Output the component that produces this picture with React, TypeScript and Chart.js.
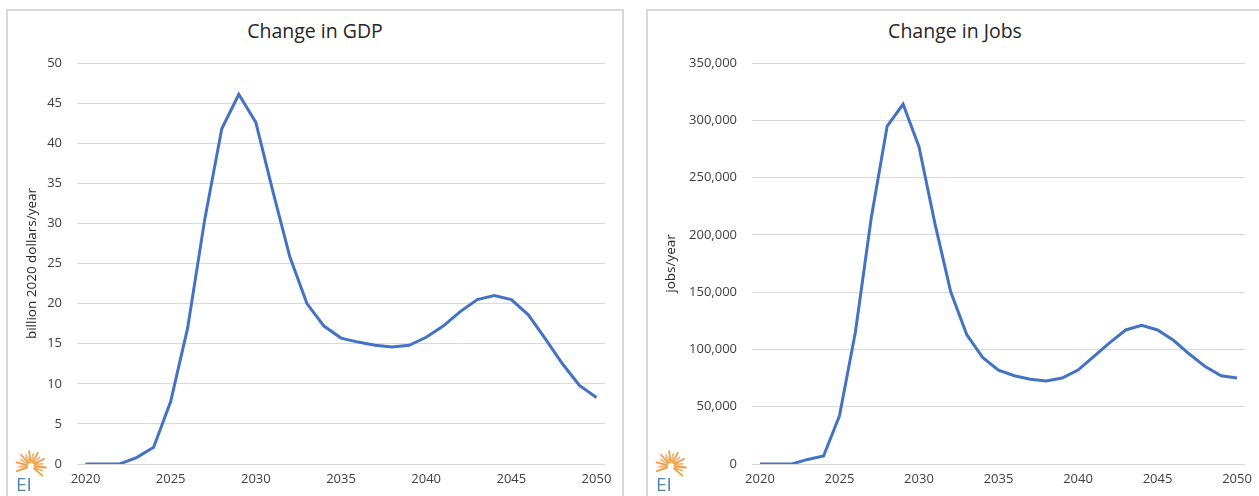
import React, { useEffect, useRef } from "react";
import { Chart, registerables } from "chart.js";

Chart.register(...registerables);

const years = [
  "2020", "2021", "2022", "2023", "2024", "2025", "2026", "2027", "2028", "2029",
  "2030", "2031", "2032", "2033", "2034", "2035", "2036", "2037", "2038", "2039",
  "2040", "2041", "2042", "2043", "2044", "2045", "2046", "2047", "2048", "2049", "2050",
];

const gdpValues = [
  0, 0, 0, 0.8, 2.1, 7.8, 17, 30.5, 41.8, 46.1,
  42.6, 34, 25.8, 20, 17.2, 15.7, 15.2, 14.8, 14.6, 14.8,
  15.8, 17.2, 19, 20.5, 21, 20.5, 18.6, 15.6, 12.5, 9.8, 8.3,
];

const jobsValues = [
  0, 0, 0, 4000, 7000, 42000, 115000, 215000, 295000, 314000,
  277000, 210000, 150000, 113000, 93000, 82000, 77000, 74000, 72500, 75000,
  82000, 94000, 106000, 117000, 121000, 117000, 108000, 96000, 85000, 77000, 75000,
];

const gdpAxis = { min: 0, max: 50, step: 5 };
const jobsAxis = { min: 0, max: 350000, step: 50000 };

const FONT = "'Open Sans', 'Liberation Sans', sans-serif";
const TEXT = "#404040";
const GRID = "#d9d9d9";
const LINE = "#4472C4";

const logoPlugin = {
  id: "eiLogo",
  afterDraw(chart: any) {
    const ctx = chart.ctx;
    ctx.save();
    const cx = 23;
    const cy = 455;
    const n = 15;
    for (let i = 0; i < n; i++) {
      const a = ((-200 + (i * 240) / (n - 1)) * Math.PI) / 180;
      const r0 = 4;
      const r1 = i % 2 === 0 ? 15 : 12;
      ctx.strokeStyle = i % 2 === 0 ? "#f29a3f" : "#f6b26b";
      ctx.lineWidth = 1.8;
      ctx.lineCap = "round";
      ctx.beginPath();
      ctx.moveTo(cx + r0 * Math.cos(a), cy + r0 * Math.sin(a));
      ctx.lineTo(cx + r1 * Math.cos(a), cy + r1 * Math.sin(a));
      ctx.stroke();
    }
    ctx.fillStyle = "#5782aa";
    ctx.font = `19px ${FONT}`;
    ctx.textBaseline = "alphabetic";
    ctx.textAlign = "left";
    ctx.fillText("EI", 8, 480);
    ctx.restore();
  },
};

type PanelProps = {
  left: number;
  title: string;
  yTitle: string;
  values: number[];
  axis: { min: number; max: number; step: number };
  yAxisWidth: number;
  yTitlePad: number;
  fmt: (v: number) => string;
};

function Panel({ left, title, yTitle, values, axis, yAxisWidth, yTitlePad, fmt }: PanelProps) {
  const ref = useRef<HTMLCanvasElement>(null);
  useEffect(() => {
    if (!ref.current) return;
    const chart = new Chart(ref.current, {
      type: "line",
      data: {
        labels: years,
        datasets: [
          {
            data: values,
            borderColor: LINE,
            borderWidth: 3,
            pointRadius: 0,
            tension: 0,
            fill: false,
          },
        ],
      },
      plugins: [logoPlugin],
      options: {
        responsive: false,
        animation: false,
        layout: { padding: { top: 52, right: 17, bottom: 0, left: 0 } },
        plugins: { legend: { display: false }, title: { display: false }, tooltip: { enabled: false } },
        scales: {
          x: {
            type: "category",
            offset: true,
            grid: { display: false, drawTicks: false },
            border: { display: false },
            afterFit: (s: any) => {
              s.height = 32;
            },
            ticks: {
              autoSkip: false,
              maxRotation: 0,
              padding: 7,
              color: TEXT,
              font: { family: FONT, size: 13 },
              callback: function (this: any, v: any) {
                const lab = years[v as number];
                return Number(lab) % 5 === 0 ? lab : "";
              },
            },
          },
          y: {
            min: axis.min,
            max: axis.max,
            afterFit: (s: any) => {
              s.width = yAxisWidth;
            },
            grid: { color: GRID, lineWidth: 1, drawTicks: false },
            border: { display: false },
            ticks: {
              stepSize: axis.step,
              padding: 15,
              color: TEXT,
              font: { family: FONT, size: 13 },
              callback: (v: any) => fmt(Number(v)),
            },
            title: {
              display: true,
              text: yTitle,
              color: "#262626",
              font: { family: FONT, size: 13.5 },
              padding: { top: yTitlePad, bottom: 0 },
            },
          },
        },
      },
    });
    return () => chart.destroy();
  }, []);
  return (
    <div
      style={{
        position: "absolute",
        left,
        top: 9,
        width: 618,
        height: 500,
        border: "2px solid #d9d9d9",
        boxSizing: "border-box",
        background: "#fff",
      }}
    >
      <div
        style={{
          position: "absolute",
          left: 0,
          top: 7,
          width: "100%",
          textAlign: "center",
          fontFamily: FONT,
          fontSize: 19.5,
          lineHeight: "26px",
          color: "#262626",
        }}
      >
        {title}
      </div>
      <canvas
        ref={ref}
        width={614}
        height={485}
        style={{ position: "absolute", left: 0, top: 0, width: 614, height: 485 }}
      />
    </div>
  );
}

export default function App() {
  return (
    <div
      style={{
        position: "absolute",
        left: 0,
        top: 0,
        width: 1259,
        height: 496,
        overflow: "hidden",
        background: "#fff",
      }}
    >
      <Panel
        left={6}
        title="Change in GDP"
        yTitle="billion 2020 dollars/year"
        values={gdpValues}
        axis={gdpAxis}
        yAxisWidth={69}
        yTitlePad={16}
        fmt={(v) => String(v)}
      />
      <Panel
        left={646}
        title="Change in Jobs"
        yTitle="jobs/year"
        values={jobsValues}
        axis={jobsAxis}
        yAxisWidth={104}
        yTitlePad={15}
        fmt={(v) => v.toLocaleString("en-US")}
      />
    </div>
  );
}
